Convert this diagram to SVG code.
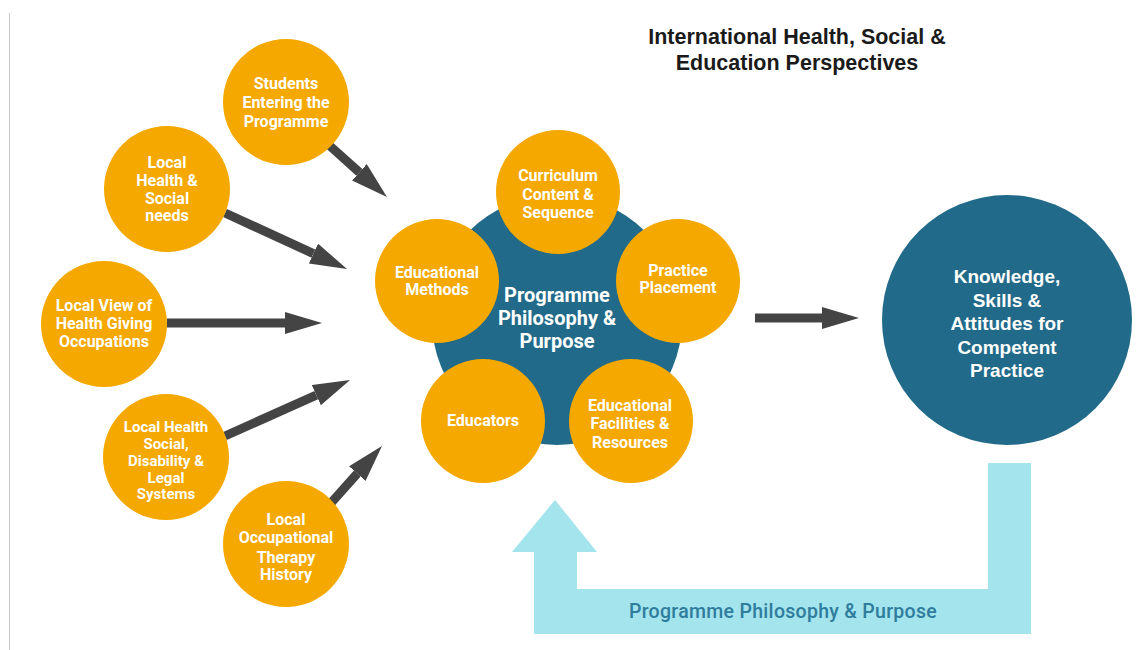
<svg xmlns="http://www.w3.org/2000/svg" width="1144" height="650" viewBox="0 0 1144 650">
<defs>
<style>
.o{fill:#f5a800}
.b{fill:#226a89}
.t{font-family:Roboto,"Liberation Sans",sans-serif;font-weight:700;font-size:16px;fill:#fff;text-anchor:middle}
.c{font-family:Roboto,"Liberation Sans",sans-serif;font-weight:700;font-size:20px;fill:#fff;text-anchor:middle}
.k{font-family:"Liberation Sans",Arial,sans-serif;font-weight:700;font-size:19px;fill:#fff;text-anchor:middle}
.h{font-family:"Liberation Sans",Arial,sans-serif;font-weight:700;font-size:21.5px;fill:#1a1a1a;text-anchor:middle}
.ar{stroke:#444;stroke-width:9;fill:none;marker-end:url(#ah)}
</style>
<marker id="ah" markerUnits="userSpaceOnUse" markerWidth="38" markerHeight="24" refX="0" refY="11" orient="auto">
<path d="M0,0 L37,11 L0,22 z" fill="#444"/>
</marker>
</defs>
<rect width="1144" height="650" fill="#fff"/>
<line x1="9.5" y1="13" x2="9.5" y2="650" stroke="#c8c8c8" stroke-width="1"/>

<g id="title">
<text class="h" x="797" y="44">International Health, Social &amp;</text>
<text class="h" x="797" y="70">Education Perspectives</text>
</g>

<g id="connectors">
<line class="ar" x1="330" y1="146" x2="359.4" y2="172.3"/>
<line class="ar" x1="225" y1="213" x2="313.4" y2="253.6"/>
<line class="ar" x1="167" y1="323" x2="285" y2="323"/>
<line class="ar" x1="225" y1="436" x2="316.3" y2="395.1"/>
<line class="ar" x1="331" y1="503" x2="357.3" y2="473.6"/>
<line class="ar" x1="755" y1="318" x2="822" y2="318"/>
<g id="feedback">
<polygon points="988,463 1031,463 1031,634 534,634 534,552 512,552 555,500 597,552 577,552 577,589 988,589" fill="#a3e4ed"/>
<text x="783" y="618" font-family="Roboto,'Liberation Sans',sans-serif" font-weight="500" font-size="19.5" letter-spacing="0.3" fill="#2f7c9c" text-anchor="middle">Programme Philosophy &amp; Purpose</text>
</g>
</g>

<g id="students">
<circle class="o" cx="286" cy="102" r="63"/>
<text class="t"><tspan x="286" y="89">Students</tspan><tspan x="286" y="108">Entering the</tspan><tspan x="286" y="127">Programme</tspan></text>
</g>
<g id="local-health-social">
<circle class="o" cx="167" cy="189" r="63"/>
<text class="t"><tspan x="167" y="168">Local</tspan><tspan x="167" y="186">Health &amp;</tspan><tspan x="167" y="204">Social</tspan><tspan x="167" y="221">needs</tspan></text>
</g>
<g id="local-view">
<circle class="o" cx="104" cy="324" r="63"/>
<text class="t"><tspan x="104" y="311">Local View of</tspan><tspan x="104" y="329">Health Giving</tspan><tspan x="104" y="347">Occupations</tspan></text>
</g>
<g id="local-systems">
<circle class="o" cx="166" cy="457" r="63"/>
<text class="t" style="font-size:15px"><tspan x="166" y="432">Local Health</tspan><tspan x="166" y="449">Social,</tspan><tspan x="166" y="466">Disability &amp;</tspan><tspan x="166" y="483">Legal</tspan><tspan x="166" y="499">Systems</tspan></text>
</g>
<g id="local-ot-history">
<circle class="o" cx="286" cy="544" r="63"/>
<text class="t"><tspan x="286" y="525">Local</tspan><tspan x="286" y="543">Occupational</tspan><tspan x="286" y="563">Therapy</tspan><tspan x="286" y="580">History</tspan></text>
</g>

<g id="programme">
<circle class="b" cx="557" cy="320" r="125"/>
<text class="c"><tspan x="557" y="302">Programme</tspan><tspan x="557" y="325">Philosophy &amp;</tspan><tspan x="557" y="348">Purpose</tspan></text>
</g>
<g id="curriculum">
<circle class="o" cx="558" cy="192" r="62"/>
<text class="t"><tspan x="558" y="181">Curriculum</tspan><tspan x="558" y="200">Content &amp;</tspan><tspan x="558" y="218">Sequence</tspan></text>
</g>
<g id="educational-methods">
<circle class="o" cx="437" cy="281" r="62"/>
<text class="t"><tspan x="437" y="278">Educational</tspan><tspan x="437" y="295">Methods</tspan></text>
</g>
<g id="practice-placement">
<circle class="o" cx="678" cy="281" r="62"/>
<text class="t"><tspan x="678" y="276">Practice</tspan><tspan x="678" y="293">Placement</tspan></text>
</g>
<g id="educators">
<circle class="o" cx="483" cy="421" r="62"/>
<text class="t" x="483" y="426">Educators</text>
</g>
<g id="educational-facilities">
<circle class="o" cx="631" cy="421" r="62"/>
<text class="t"><tspan x="630" y="411">Educational</tspan><tspan x="630" y="429">Facilities &amp;</tspan><tspan x="630" y="448">Resources</tspan></text>
</g>

<g id="knowledge">
<circle class="b" cx="1007" cy="320" r="125"/>
<text class="k"><tspan x="1007" y="283">Knowledge,</tspan><tspan x="1007" y="307">Skills &amp;</tspan><tspan x="1007" y="330">Attitudes for</tspan><tspan x="1007" y="354">Competent</tspan><tspan x="1007" y="377">Practice</tspan></text>
</g>
</svg>
